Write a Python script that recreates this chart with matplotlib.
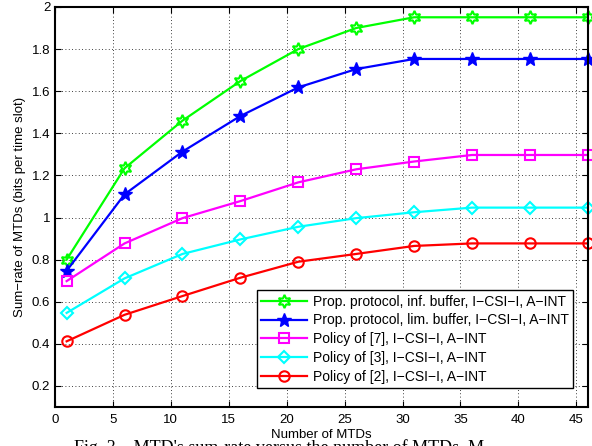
import matplotlib
matplotlib.use("Agg")
import matplotlib.pyplot as plt

x_mtds = [1, 6, 11, 16, 21, 26, 31, 36, 41, 46]
prop_inf = [0.80, 1.234, 1.46, 1.648, 1.80, 1.90, 1.951, 1.951, 1.951, 1.951]
prop_lim = [0.747, 1.11, 1.313, 1.482, 1.618, 1.705, 1.753, 1.753, 1.753, 1.753]
policy7 = [0.698, 0.877, 0.997, 1.078, 1.167, 1.229, 1.266, 1.297, 1.297, 1.297]
policy3 = [0.547, 0.711, 0.827, 0.896, 0.956, 0.997, 1.025, 1.047, 1.047, 1.047]
policy2 = [0.412, 0.538, 0.627, 0.714, 0.79, 0.827, 0.865, 0.877, 0.877, 0.877]

labels = [
    "Prop. protocol, inf. buffer, I\u2212CSI\u2212I, A\u2212INT",
    "Prop. protocol, lim. buffer, I\u2212CSI\u2212I, A\u2212INT",
    "Policy of [7], I\u2212CSI\u2212I, A\u2212INT",
    "Policy of [3], I\u2212CSI\u2212I, A\u2212INT",
    "Policy of [2], I\u2212CSI\u2212I, A\u2212INT",
]
x_ticks = [0, 5, 10, 15, 20, 25, 30, 35, 40, 45]
y_ticks = [0.2, 0.4, 0.6, 0.8, 1.0, 1.2, 1.4, 1.6, 1.8, 2.0]
y_ticklabels = ["0.2", "0.4", "0.6", "0.8", "1", "1.2", "1.4", "1.6", "1.8", "2"]

plt.rcParams['font.family'] = ['Liberation Sans', 'DejaVu Sans']

fig = plt.figure(figsize=(5.92, 4.46), dpi=100)
ax = fig.add_axes([0.093, 0.0874, 0.9, 0.897])

series = [
    (prop_inf, "#00ff00", (6, 1, 0), 9.5, "none"),
    (prop_lim, "#0000ff", "*", 10, "full"),
    (policy7, "#ff00ff", "s", 6.5, "none"),
    (policy3, "#00ffff", "D", 6.5, "none"),
    (policy2, "#ff0000", "o", 7.5, "none"),
]
for (vals, col, mk, ms, fill), lab in zip(series, labels):
    if fill == "none":
        ax.plot(x_mtds, vals, color=col, marker=mk, markersize=ms,
                markerfacecolor="none", markeredgecolor=col, markeredgewidth=1.5,
                linewidth=1.6, label=lab, clip_on=False)
    else:
        ax.plot(x_mtds, vals, color=col, marker=mk, markersize=ms,
                markerfacecolor=col, markeredgecolor=col,
                linewidth=1.6, label=lab, clip_on=False)

ax.set_xlim(0, 46)
ax.set_ylim(0.1, 2.0)
ax.set_xticks(x_ticks)
ax.set_yticks(y_ticks)
ax.set_yticklabels(y_ticklabels)
ax.tick_params(direction="in", top=True, right=True, labelsize=9.5, length=4, width=0.8)
ax.tick_params(axis="x", pad=5)
ax.grid(True, linestyle=(0, (1, 3)), color="black", linewidth=0.6)
for s in ax.spines.values():
    s.set_linewidth(1.5)

ax.set_xlabel("Number of MTDs", fontsize=9.5, labelpad=2)
ax.set_ylabel("Sum\u2212rate of MTDs (bits per time slot)", fontsize=9.5, labelpad=4)

leg = ax.legend(loc="lower right", bbox_to_anchor=(0.972, 0.047), fontsize=10,
                handlelength=3.3, labelspacing=0.35, fancybox=False,
                edgecolor="black", framealpha=1, borderpad=0.3, handletextpad=0.4,
                borderaxespad=0)
leg.get_frame().set_linewidth(1.0)

fig.text(0.125, -0.016, "Fig. 3.   MTD's sum-rate versus the number of MTDs, M.",
         fontsize=13, family="Liberation Serif", ha="left", va="baseline")

fig.savefig("out.png", dpi=100)
